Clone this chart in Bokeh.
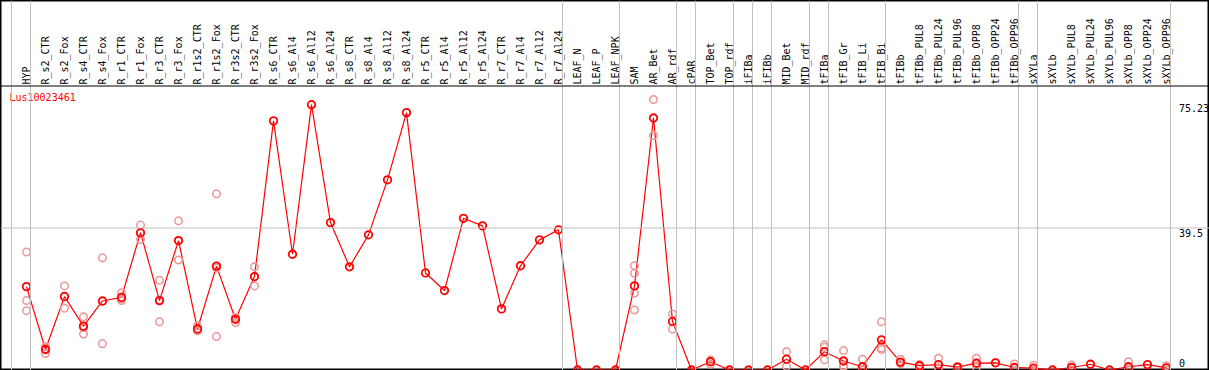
import math
from bokeh.plotting import figure
from bokeh.models import Range1d, Span, ColumnDataSource
from bokeh.core.properties import value
from bokeh.embed import file_html
from bokeh.resources import INLINE

# ---------------- data ----------------
gene_id = "Lus10023461"

categories = [
    "HYP", "R_s2_CTR", "R_s2_Fox", "R_s4_CTR", "R_s4_Fox", "R_r1_CTR", "R_r1_Fox",
    "R_r3_CTR", "R_r3_Fox", "R_r1s2_CTR", "R_r1s2_Fox", "R_r3s2_CTR", "R_r3s2_Fox",
    "R_s6_CTR", "R_s6_Al4", "R_s6_Al12", "R_s6_Al24", "R_s8_CTR", "R_s8_Al4",
    "R_s8_Al12", "R_s8_Al24", "R_r5_CTR", "R_r5_Al4", "R_r5_Al12", "R_r5_Al24",
    "R_r7_CTR", "R_r7_Al4", "R_r7_Al12", "R_r7_Al24", "LEAF_N", "LEAF_P", "LEAF_NPK",
    "SAM", "AR_Bet", "AR_rdf", "cPAR", "TOP_Bet", "TOP_rdf", "iFIBa", "iFIBb",
    "MID_Bet", "MID_rdf", "tFIBa", "tFIB_Gr", "tFIB_Li", "tFIB_Bi", "tFIBb",
    "tFIBb_PUL8", "tFIBb_PUL24", "tFIBb_PUL96", "tFIBb_OPP8", "tFIBb_OPP24",
    "tFIBb_OPP96", "sXYLa", "sXYLb", "sXYLb_PUL8", "sXYLb_PUL24", "sXYLb_PUL96",
    "sXYLb_OPP8", "sXYLb_OPP24", "sXYLb_OPP96",
]

means = [
    23.2, 5.7, 20.4, 12.2, 19.2, 20.2, 38.2, 19.3, 36.0, 11.4, 28.9, 14.1, 26.0,
    69.3, 32.2, 73.8, 41.0, 28.7, 37.6, 52.9, 71.6, 27.0, 22.1, 42.2, 40.1,
    17.0, 29.0, 36.2, 39.0, 0.0, 0.0, 0.0,
    23.4, 70.1, 13.5, 0.0, 2.3, 0.0, 0.0, 0.0,
    3.0, 0.0, 5.1, 2.5, 0.9, 8.4, 2.2,
    1.2, 1.5, 0.8, 1.9, 2.0,
    0.7, 0.5, 0.0, 0.7, 1.6, 0.0,
    0.9, 1.5, 0.6,
]

rep_samples = (
    ["HYP"] * 3 + ["R_s2_CTR"] * 3 + ["R_s2_Fox"] * 3 + ["R_s4_CTR"] * 3 +
    ["R_s4_Fox"] * 3 + ["R_r1_CTR"] * 3 + ["R_r1_Fox"] * 3 + ["R_r3_CTR"] * 3 +
    ["R_r3_Fox"] * 3 + ["R_r1s2_CTR"] * 3 + ["R_r1s2_Fox"] * 3 +
    ["R_r3s2_CTR"] * 3 + ["R_r3s2_Fox"] * 3 + ["SAM"] * 4 + ["AR_Bet"] * 2 +
    ["AR_rdf"] * 2 + ["TOP_Bet"] * 2 + ["MID_Bet"] * 2 + ["tFIBa"] * 3 +
    ["tFIB_Gr"] * 3 + ["tFIB_Li"] * 3 + ["tFIB_Bi"] * 3 + ["tFIBb"] * 3 +
    ["tFIBb_PUL8"] * 2 + ["tFIBb_PUL24"] * 2 + ["tFIBb_PUL96"] * 2 +
    ["tFIBb_OPP8"] * 3 + ["tFIBb_OPP24"] * 1 + ["tFIBb_OPP96"] * 2 +
    ["sXYLa"] * 2 + ["sXYLb_PUL8"] * 2 + ["sXYLb_OPP8"] * 2 + ["sXYLb_OPP96"] * 2
)
rep_values = [
    32.8, 19.3, 16.5,
    6.5, 4.6, 5.9,
    23.4, 17.2, 20.6,
    14.8, 10.0, 11.8,
    31.2, 7.3, 19.1,
    21.5, 19.3, 19.8,
    40.3, 36.3, 38.0,
    25.0, 13.4, 19.5,
    41.5, 30.6, 35.9,
    12.3, 10.9, 11.0,
    49.0, 9.3, 28.4,
    14.6, 13.2, 14.5,
    28.7, 23.4, 25.9,
    29.0, 26.9, 21.4, 16.7,
    75.23, 65.2,
    15.6, 11.4,
    2.8, 1.6,
    5.1, 1.0,
    7.0, 6.3, 2.8,
    5.4, 0.9, 1.2,
    3.0, 0.0, 0.0,
    13.4, 6.1, 5.7,
    3.0, 1.8, 1.9,
    1.5, 0.9,
    3.3, 0.6,
    1.0, 0.6,
    3.3, 0.7, 1.8,
    2.0,
    1.7, 0.0,
    1.3, 0.0,
    1.4, 0.0,
    2.3, 0.0,
    1.2, 0.0,
]

# last sample of each group (group separators drawn just after them)
group_ends = ["HYP", "R_r7_Al24", "LEAF_NPK", "AR_rdf", "cPAR", "TOP_rdf", "iFIBa",
              "iFIBb", "MID_rdf", "tFIBa", "tFIB_Bi", "tFIBb_OPP96", "sXYLa",
              "sXYLb_OPP96"]

y_max = 79.0
tick_values = [75.23, 39.5, 0.0]
tick_labels = ["75.23", "39.5", "0"]

# ---------------- layout / style ----------------
W, H = 1209, 370
x0_px, step_px = 26.0, 19.0          # pixel of first sample, sample spacing
zero_px, top_px = 369.5, 85.5        # pixel rows of value 0 and of y_max
ppu = (zero_px - top_px) / y_max

idx = {c: i for i, c in enumerate(categories)}
xs = list(range(len(categories)))

x_range = Range1d(-x0_px / step_px, (W - x0_px) / step_px)
y_range = Range1d(-(H - zero_px) / ppu, zero_px / ppu)

p = figure(width=W, height=H, x_range=x_range, y_range=y_range,
           output_backend="svg", toolbar_location=None,
           x_axis_location=None, y_axis_location=None,
           min_border=0, min_border_left=0, min_border_right=0,
           min_border_top=0, min_border_bottom=0,
           background_fill_color="white", border_fill_color="white")
p.grid.visible = False
p.outline_line_color = "black"
p.outline_line_width = 2

grid_col = "#c0c0c0"
# horizontal mid grid line
p.add_layout(Span(location=tick_values[1], dimension="width",
                  line_color=grid_col, line_width=1))
# group separators (first one precedes the first group)
sep_off = 0.21
p.add_layout(Span(location=-1 + sep_off, dimension="height",
                  line_color=grid_col, line_width=1))
for g in group_ends:
    p.add_layout(Span(location=idx[g] + sep_off, dimension="height",
                      line_color=grid_col, line_width=1))
# header separator
p.add_layout(Span(location=y_max, dimension="width",
                  line_color="black", line_width=1))

mono = value("DejaVu Sans Mono")

# sample labels (rotated, in header)
lab_src = ColumnDataSource(dict(x=xs, y=[y_max + 1.5 / ppu] * len(xs), t=categories))
p.text(x="x", y="y", text="t", source=lab_src, angle=math.pi / 2,
       text_align="left", text_baseline="middle", text_font=mono,
       text_font_size="10px", text_color="black")

# replicate points
rep_src = ColumnDataSource(dict(x=[idx[s] for s in rep_samples], y=rep_values))
# mean line
mean_src = ColumnDataSource(dict(x=xs, y=means))
p.line(x="x", y="y", source=mean_src, line_color="red", line_width=1.2)
p.scatter(x="x", y="y", source=rep_src, marker="circle", size=7.5,
          fill_color=None, line_color="#ee9696", line_width=1.5)
p.scatter(x="x", y="y", source=mean_src, marker="circle", size=7.5,
          fill_color=None, line_color="red", line_width=1.8)

# gene id
p.text(x=[(9 - x0_px) / step_px], y=[(zero_px - 97) / ppu], text=[gene_id],
       text_align="left", text_baseline="middle", text_font=mono,
       text_font_size="10px", text_color="red")

# value labels (right side, inside plot)
tick_offsets = [8, 5, -7.5]
tick_src = ColumnDataSource(dict(x=[(1178.5 - x0_px) / step_px] * 3, y=tick_values,
                                 t=tick_labels, yo=tick_offsets))
p.text(x="x", y="y", text="t", y_offset="yo", source=tick_src,
       text_align="left", text_baseline="middle", text_font=mono,
       text_font_size="10px", text_color="black")

open("out.html", "w").write(file_html(p, INLINE))
